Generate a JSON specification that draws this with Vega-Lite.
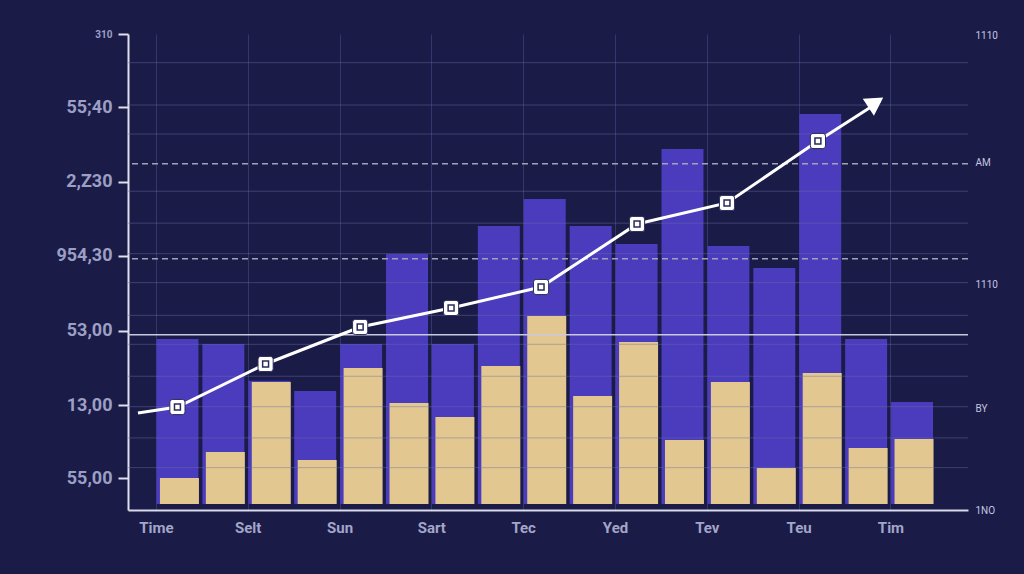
{
  "$schema": "https://vega.github.io/schema/vega-lite/v6.json",
  "width": 840,
  "height": 476,
  "autosize": {"type": "none"},
  "padding": {"left": 128, "top": 34, "right": 56, "bottom": 64},
  "background": "#1a1b47",
  "config": {
    "view": {"stroke": null},
    "font": "Roboto",
    "axis": {"labelFont": "Roboto", "gridColor": "#34376c", "gridWidth": 1}
  },
  "datasets": {
    "bars": [
      {"slot": 0, "total": 23.01, "part": 4.31},
      {"slot": 1, "total": 22.34, "part": 7.81},
      {"slot": 2, "total": 17.4, "part": 17.23},
      {"slot": 3, "total": 16.02, "part": 6.73},
      {"slot": 4, "total": 22.34, "part": 19.11},
      {"slot": 5, "total": 34.45, "part": 14.4},
      {"slot": 6, "total": 22.34, "part": 12.52},
      {"slot": 7, "total": 38.22, "part": 19.38},
      {"slot": 8, "total": 41.86, "part": 26.11},
      {"slot": 9, "total": 38.22, "part": 15.34},
      {"slot": 10, "total": 35.8, "part": 22.61},
      {"slot": 11, "total": 48.59, "part": 9.42},
      {"slot": 12, "total": 35.53, "part": 17.23},
      {"slot": 13, "total": 32.57, "part": 5.65},
      {"slot": 14, "total": 53.3, "part": 18.44},
      {"slot": 15, "total": 23.01, "part": 8.34},
      {"slot": 16, "total": 14.54, "part": 9.56}
    ],
    "trend": [
      {"x": -0.86, "y": 13.06, "marker": false},
      {"x": 0.0, "y": 13.86, "marker": true},
      {"x": 1.92, "y": 19.65, "marker": true},
      {"x": 3.98, "y": 24.63, "marker": true},
      {"x": 5.96, "y": 27.19, "marker": true},
      {"x": 7.92, "y": 30.01, "marker": true},
      {"x": 10.01, "y": 38.49, "marker": true},
      {"x": 11.97, "y": 41.32, "marker": true},
      {"x": 13.95, "y": 49.66, "marker": true},
      {"x": 15.3, "y": 55.0, "marker": false}
    ],
    "grid": [
      {"y": 60.2}, {"y": 54.5}, {"y": 50.6}, {"y": 42.9}, {"y": 38.6},
      {"y": 34.5}, {"y": 30.6}, {"y": 26.2}, {"y": 22.3}, {"y": 18.0},
      {"y": 13.9}, {"y": 9.7}, {"y": 5.7}
    ],
    "dashed": [{"y": 46.6}, {"y": 33.8}],
    "solid": [{"y": 23.6}],
    "arrow": [{"x": 15.21, "y": 54.85}]
  },
  "resolve": {"axis": {"y": "independent", "x": "independent"}},
  "layer": [
    {
      "data": {"name": "bars"},
      "mark": {"type": "bar", "width": 42, "color": "#4b3bbd"},
      "encoding": {
        "x": {
          "field": "slot", "type": "quantitative",
          "scale": {"domain": [-0.968, 17.11], "nice": false, "zero": false},
          "axis": {
            "title": null,
            "values": [-0.47, 1.53, 3.53, 5.53, 7.53, 9.53, 11.53, 13.53, 15.53],
            "labelExpr": "['Time','Selt','Sun','Sart','Tec','Yed','Tev','Teu','Tim'][round((datum.value+0.47)/2)]",
            "grid": true,
            "ticks": false,
            "domain": true,
            "domainColor": "#d8d8ea",
            "domainWidth": 2,
            "labelColor": "#a3a6c9",
            "labelFontSize": 15,
            "labelFontWeight": "bold",
            "labelPadding": 10,
            "labelFlush": false
          }
        },
        "y": {
          "field": "total", "type": "quantitative",
          "scale": {"domain": [0, 64.06], "nice": false, "zero": false},
          "axis": {
            "title": null,
            "orient": "left",
            "values": [4.3, 14.1, 24.1, 34.2, 44.15, 54.2, 64.06],
            "labelExpr": "datum.value > 60 ? '310' : datum.value > 50 ? '55;40' : datum.value > 40 ? '2,Z30' : datum.value > 30 ? '954,30' : datum.value > 20 ? '53,00' : datum.value > 10 ? '13,00' : '55,00'",
            "grid": false,
            "domain": true,
            "domainColor": "#e0e0f0",
            "domainWidth": 2,
            "ticks": true,
            "tickColor": "#e0e0f0",
            "tickWidth": 2,
            "tickSize": 10,
            "labelColor": "#9c9fc4",
            "labelFontSize": {"condition": {"test": "datum.value > 60", "value": 10}, "value": 18},
            "labelFontWeight": "bold",
            "labelPadding": 6,
            "labelFlush": false
          }
        },
        "y2": {"datum": 0.8}
      }
    },
    {
      "data": {"name": "bars"},
      "mark": {"type": "bar", "width": 39, "xOffset": 2, "color": "#e3c790"},
      "encoding": {
        "x": {"field": "slot", "type": "quantitative", "axis": null},
        "y": {"field": "part", "type": "quantitative", "axis": null},
        "y2": {"datum": 0.8}
      }
    },
    {
      "data": {"name": "grid"},
      "mark": {"type": "rule", "color": "#6b6ea3", "strokeWidth": 1, "opacity": 0.45},
      "encoding": {
        "y": {
          "field": "y", "type": "quantitative",
          "axis": {
            "title": null,
            "orient": "right",
            "values": [0, 13.7, 30.3, 46.7, 63.9],
            "labelExpr": "datum.value > 60 ? '1110' : datum.value > 40 ? 'AM' : datum.value > 20 ? '1110' : datum.value > 10 ? 'BY' : '1NO'",
            "grid": false,
            "domain": false,
            "ticks": false,
            "labelColor": "#c4c6e0",
            "labelFontSize": 10,
            "labelPadding": 7,
            "labelFlush": false
          }
        }
      }
    },
    {
      "data": {"name": "dashed"},
      "mark": {"type": "rule", "color": "#a3a3b8", "strokeWidth": 1.5, "strokeDash": [6, 4]},
      "encoding": {"y": {"field": "y", "type": "quantitative", "axis": null}}
    },
    {
      "data": {"name": "solid"},
      "mark": {"type": "rule", "color": "#c9cae2", "strokeWidth": 1.5},
      "encoding": {"y": {"field": "y", "type": "quantitative", "axis": null}}
    },
    {
      "mark": {"type": "rule", "color": "#e0e0f0", "strokeWidth": 2},
      "encoding": {"y": {"datum": 64.06, "type": "quantitative", "axis": null}}
    },
    {
      "data": {"name": "trend"},
      "mark": {"type": "line", "color": "#ffffff", "strokeWidth": 3},
      "encoding": {
        "x": {"field": "x", "type": "quantitative", "axis": null},
        "y": {"field": "y", "type": "quantitative", "axis": null}
      }
    },
    {
      "data": {"name": "trend"},
      "transform": [{"filter": "datum.marker"}],
      "mark": {
        "type": "point", "filled": true, "color": "#ffffff", "size": 230, "opacity": 1,
        "shape": "M -0.65 -1 H 0.65 Q 1 -1 1 -0.65 V 0.65 Q 1 1 0.65 1 H -0.65 Q -1 1 -1 0.65 V -0.65 Q -1 -1 -0.65 -1 Z",
        "stroke": "#2a2a5a", "strokeWidth": 1
      },
      "encoding": {
        "x": {"field": "x", "type": "quantitative", "axis": null},
        "y": {"field": "y", "type": "quantitative", "axis": null}
      }
    },
    {
      "data": {"name": "trend"},
      "transform": [{"filter": "datum.marker"}],
      "mark": {"type": "point", "shape": "square", "filled": false, "size": 35, "stroke": "#2a2a5a", "strokeWidth": 1.5, "opacity": 1},
      "encoding": {
        "x": {"field": "x", "type": "quantitative", "axis": null},
        "y": {"field": "y", "type": "quantitative", "axis": null}
      }
    },
    {
      "data": {"name": "arrow"},
      "mark": {"type": "point", "shape": "triangle-up", "filled": true, "color": "#ffffff", "size": 420, "angle": 57, "opacity": 1},
      "encoding": {
        "x": {"field": "x", "type": "quantitative", "axis": null},
        "y": {"field": "y", "type": "quantitative", "axis": null}
      }
    }
  ]
}
